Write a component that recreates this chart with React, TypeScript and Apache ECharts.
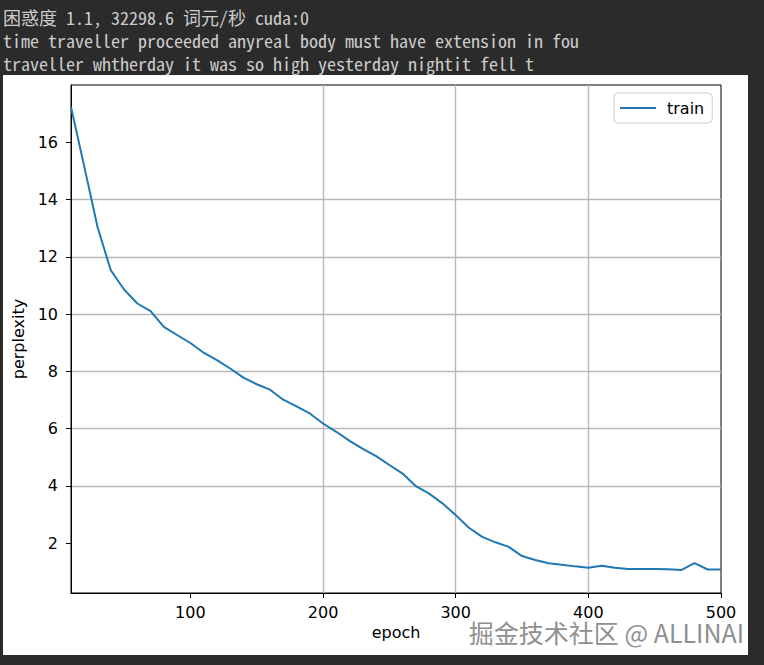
import React, { useEffect, useRef } from "react";
import * as echarts from "echarts";

const epochs = [
  10, 20, 30, 40, 50, 60, 70, 80, 90, 100,
  110, 120, 130, 140, 150, 160, 170, 180, 190, 200,
  210, 220, 230, 240, 250, 260, 270, 280, 290, 300,
  310, 320, 330, 340, 350, 360, 370, 380, 390, 400,
  410, 420, 430, 440, 450, 460, 470, 480, 490, 500,
];

const trainPerplexity = [
  17.23, 15.15, 13.04, 11.53, 10.86, 10.37, 10.1, 9.55, 9.27, 8.99,
  8.65, 8.39, 8.1, 7.78, 7.55, 7.36, 7.01, 6.78, 6.53, 6.18,
  5.89, 5.57, 5.29, 5.04, 4.73, 4.43, 3.99, 3.73, 3.39, 2.98,
  2.54, 2.22, 2.03, 1.87, 1.55, 1.41, 1.3, 1.25, 1.19, 1.14,
  1.21, 1.14, 1.1, 1.1, 1.1, 1.09, 1.06, 1.3, 1.08, 1.08,
];

const xTickValues = [100, 200, 300, 400, 500];
const yTickValues = [2, 4, 6, 8, 10, 12, 14, 16];

const headerLines = [
  "困惑度 1.1, 32298.6 词元/秒 cuda:0",
  "time traveller proceeded anyreal body must have extension in fou",
  "traveller whtherday it was so high yesterday nightit fell t",
];

const seriesName = "train";
const xName = "epoch";
const yName = "perplexity";
const watermark = "掘金技术社区 @ ALLINAI";

export default function App() {
  const ref = useRef<HTMLDivElement>(null);

  useEffect(() => {
    if (!ref.current) return;
    const chart = echarts.init(ref.current, undefined, { renderer: "svg" });
    const font = "DejaVu Sans";
    const headerY = [17, 40, 63];

    const option: any = {
      animation: false,
      backgroundColor: "transparent",
      textStyle: { fontFamily: font },
      grid: {
        left: 71,
        top: 85,
        width: 650,
        height: 508,
        show: true,
        borderColor: "#000",
        borderWidth: 1,
        backgroundColor: "transparent",
      },
      legend: {
        show: true,
        left: 614,
        top: 93,
        orient: "vertical",
        padding: [6, 8, 6, 6],
        itemWidth: 36,
        itemHeight: 2,
        icon: "rect",
        borderColor: "#cccccc",
        borderWidth: 1,
        borderRadius: 4,
        backgroundColor: "rgba(255,255,255,0.8)",
        textStyle: {
          fontSize: 16,
          color: "#000",
          fontFamily: font,
          padding: [0, 0, 0, 6],
          lineHeight: 18,
        },
        data: [seriesName],
      },
      xAxis: {
        type: "value",
        min: 10,
        max: 500,
        splitNumber: 5,
        name: xName,
        nameLocation: "middle",
        nameGap: 31,
        nameTextStyle: { fontSize: 16, color: "#000", fontFamily: font },
        axisLine: { show: true, onZero: false, lineStyle: { color: "#000", width: 1 } },
        axisTick: { show: true, length: 5, lineStyle: { color: "#000", width: 1 }, customValues: xTickValues },
        axisLabel: { fontSize: 16, color: "#000", margin: 11, fontFamily: font, customValues: xTickValues },
        splitLine: {
          show: true,
          showMinLine: false,
          showMaxLine: false,
          lineStyle: { color: "#b8b8b8", width: 1.4 },
        },
      },
      yAxis: {
        type: "value",
        min: 0.26,
        max: 18.0,
        splitNumber: 9,
        name: yName,
        nameLocation: "middle",
        nameGap: 38,
        nameTextStyle: { fontSize: 16, color: "#000", fontFamily: font },
        axisLine: { show: true, onZero: false, lineStyle: { color: "#000", width: 1 } },
        axisTick: { show: true, length: 5, lineStyle: { color: "#000", width: 1 }, customValues: yTickValues },
        axisLabel: { fontSize: 16, color: "#000", margin: 13, fontFamily: font, customValues: yTickValues },
        splitLine: {
          show: true,
          showMinLine: false,
          showMaxLine: false,
          lineStyle: { color: "#b8b8b8", width: 1.4 },
        },
      },
      series: [
        {
          type: "line",
          name: seriesName,
          data: epochs.map((e, i) => [e, trainPerplexity[i]]),
          symbol: "none",
          showSymbol: false,
          lineStyle: { color: "#1f77b4", width: 2 },
          itemStyle: { color: "#1f77b4" },
        },
      ],
      graphic: [
        ...headerLines.map((t, i) => ({
          type: "text",
          x: 3,
          y: headerY[i],
          style: {
            text: t,
            fill: "#cccccc",
            fontSize: 18,
            lineHeight: 20,
            fontFamily: "'Noto Sans Mono CJK SC', 'Liberation Mono', monospace",
            align: "left",
            verticalAlign: "middle",
          },
        })),
        {
          type: "text",
          x: 744,
          y: 632,
          z: 100,
          style: {
            text: watermark,
            fill: "#8f8f8f",
            stroke: "#ffffff",
            lineWidth: 2,
            fontSize: 25,
            fontFamily: "'Noto Sans CJK SC', sans-serif",
            align: "right",
            verticalAlign: "middle",
          },
        },
      ],
    };

    chart.setOption(option);
    return () => chart.dispose();
  }, []);

  return (
    <div
      style={{
        position: "fixed",
        left: 0,
        top: 0,
        width: 764,
        height: 665,
        background: "#2b2b2b",
        overflow: "hidden",
      }}
    >
      <div
        style={{
          position: "absolute",
          left: 3,
          top: 75,
          width: 745,
          height: 580,
          background: "#ffffff",
        }}
      />
      <div ref={ref} style={{ position: "absolute", left: 0, top: 0, width: 764, height: 665 }} />
    </div>
  );
}
